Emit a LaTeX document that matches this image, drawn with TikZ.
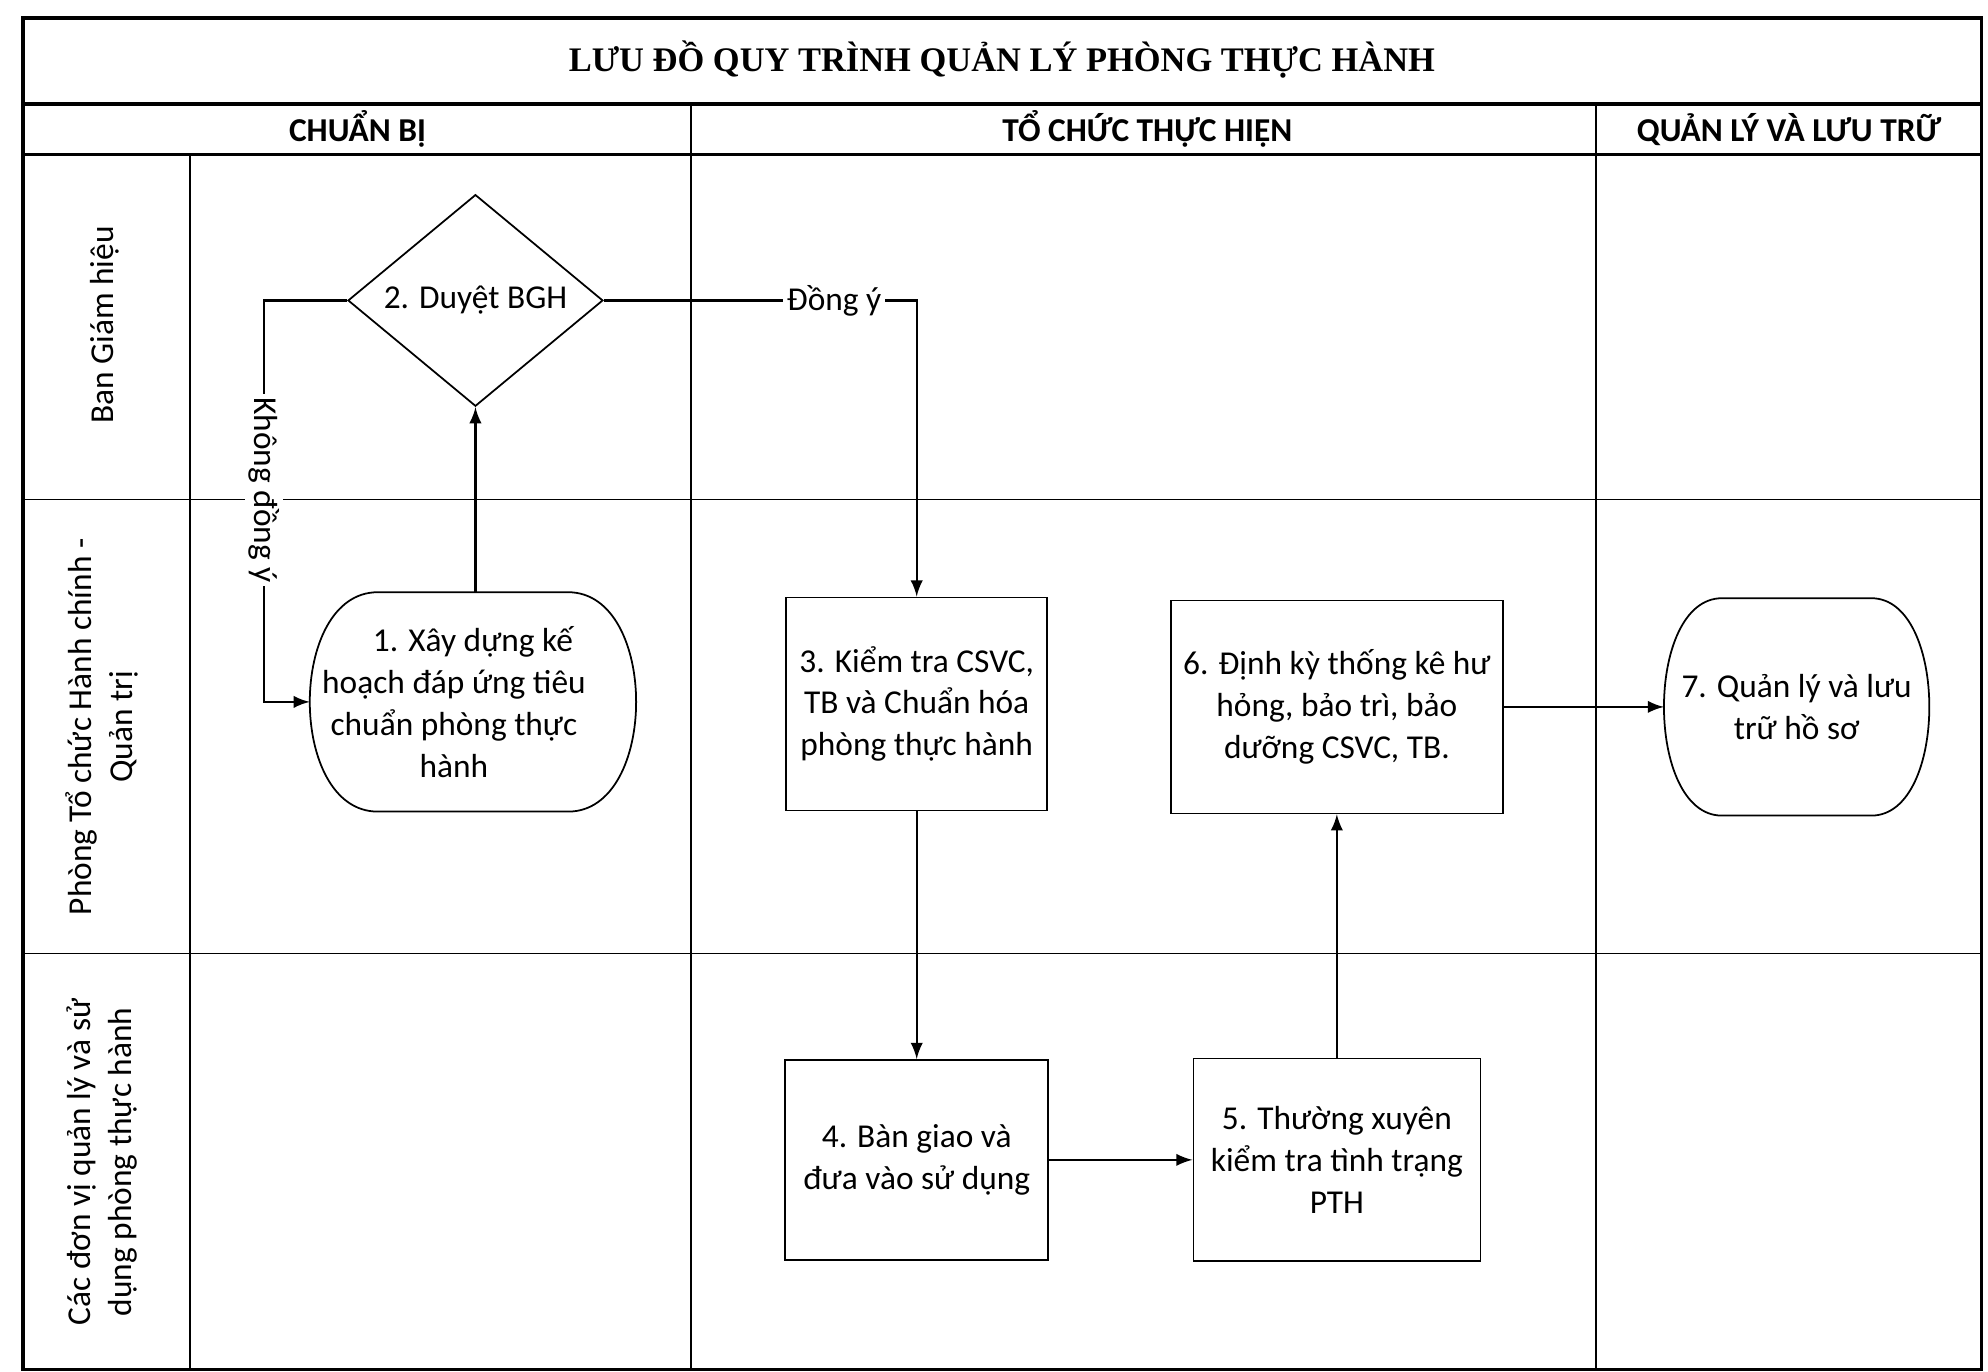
\documentclass[tikz,border=0pt]{standalone}
\usepackage{fontspec}
\setmainfont{Carlito}
\newfontfamily\titlefont{Liberation Serif}
\usetikzlibrary{arrows,shapes.geometric}
\tikzset{
  txt/.style={font=\fontsize{9.5}{11.9}\selectfont,align=center},
  box/.style={txt,draw,rectangle,line width=0.5pt,inner sep=1pt},
  decision/.style={txt,draw,diamond,line width=0.5pt,inner sep=0pt,minimum width=2.55cm,minimum height=2.03cm},
  terminal/.style={txt,rectangle,inner sep=0pt},
  header/.style={font=\bfseries\fontsize{9.5}{11.9}\selectfont},
  lane/.style={txt,rotate=90},
  conn/.style={->,line width=0.6pt},
  answer/.style={txt,fill=white,inner sep=1pt}
}
\newcommand{\TermOutline}[2]{%
  \draw[line width=0.5pt] ([xshift=#2]#1.north west) -- ([xshift=-#2]#1.north east)
    .. controls ([xshift=0.333*#2]#1.north east) and ([xshift=0.333*#2]#1.south east) .. ([xshift=-#2]#1.south east)
    -- ([xshift=#2]#1.south west)
    .. controls ([xshift=-0.333*#2]#1.south west) and ([xshift=-0.333*#2]#1.north west) .. ([xshift=#2]#1.north west);}
\newcommand{\tailgap}{\rule{0.38cm}{0pt}}

\begin{document}
\begin{tikzpicture}[>=latex]
    \useasboundingbox (0,0) rectangle (19.882,13.72);
    \draw[line width=1pt] (0.228,0.025) rectangle (19.819,13.542);
    \draw[line width=0.9pt] (0.228,12.68) -- (19.819,12.68);
    \draw[line width=0.9pt] (0.228,12.173) -- (19.819,12.173);
    \draw[line width=0.5pt] (0.228,8.724) -- (19.819,8.724);
    \draw[line width=0.5pt] (0.228,4.184) -- (19.819,4.184);
    \draw[line width=0.5pt] (1.902,12.173) -- (1.902,0.025);
    \draw[line width=0.5pt] (6.911,12.68) -- (6.911,0.025);
    \draw[line width=0.5pt] (15.964,12.68) -- (15.964,0.025);

    \node[font=\titlefont\bfseries\fontsize{9.8}{11.8}\selectfont] (title) at (10.02,13.12) {LƯU ĐỒ QUY TRÌNH QUẢN LÝ PHÒNG THỰC HÀNH};
    \node[header] (prep) at (3.576,12.426) {CHUẨN BỊ};
    \node[header] (exec) at (11.475,12.426) {TỔ CHỨC THỰC HIỆN};
    \node[header] (store) at (17.891,12.426) {QUẢN LÝ VÀ LƯU TRỮ};

    \node[lane] (bgh) at (1.05,10.47) {Ban Giám hiệu};
    \node[lane] (tchc) at (1.02,6.45) {Phòng Tổ chức Hành chính -\\Quản trị};
    \node[lane] (units) at (1.02,2.1) {Các đơn vị quản lý và sử\\dụng phòng thực hành};

    \node[decision] (n2) at (4.755,10.715) {2. Duyệt BGH};
    \node[terminal,minimum width=3.25cm,minimum height=2.18cm] (n1) at (4.73,6.70) {1. Xây dựng kế\\hoạch đáp ứng tiêu\tailgap\\chuẩn phòng thực\tailgap\\hành\tailgap};
    \node[box,minimum width=2.61cm,minimum height=2.13cm] (n3) at (9.168,6.68) {3. Kiểm tra CSVC,\\TB và Chuẩn hóa\\phòng thực hành};
    \node[box,minimum width=2.63cm,minimum height=2.0cm] (n4) at (9.168,2.12) {4. Bàn giao và\\đưa vào sử dụng};
    \node[box,minimum width=2.87cm,minimum height=2.03cm] (n5) at (13.37,2.12) {5. Thường xuyên\\kiểm tra tình trạng\\PTH};
    \node[box,minimum width=3.32cm,minimum height=2.13cm] (n6) at (13.37,6.65) {6. Định kỳ thống kê hư\\hỏng, bảo trì, bảo\\dưỡng CSVC, TB.};
    \node[terminal,minimum width=2.64cm,minimum height=2.16cm] (n7) at (17.968,6.65) {7. Quản lý và lưu\\trữ hồ sơ};
    \TermOutline{n1}{0.68cm}
    \TermOutline{n7}{0.58cm}

    \coordinate (nobend) at (2.637,10.715);
    \draw[conn] (n1.north -| n2.south) -- (n2.south);
    \draw[conn] (n2.west) -- (nobend) |- (n1.west) node[answer,pos=0.236,rotate=-90] {Không đồng ý};
    \draw[conn] (n2.east) -| (n3.north) node[answer,pos=0.368] {Đồng ý};
    \draw[conn] (n3) -- (n4);
    \draw[conn] (n4) -- (n5);
    \draw[conn] (n5) -- (n6);
    \draw[conn] (n6) -- (n7);
\end{tikzpicture}
\end{document}
